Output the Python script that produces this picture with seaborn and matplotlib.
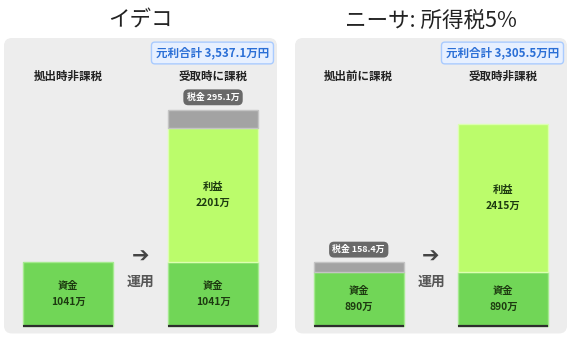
import matplotlib
matplotlib.use('Agg')
import matplotlib.pyplot as plt
import seaborn as sns
import pandas as pd
from matplotlib.patches import FancyBboxPatch

# ---- data ----
titles = ['イデコ', 'ニーサ: 所得税5%']
stages = ['拠出', '受取']
headers = [['拠出時非課税', '受取時に課税'], ['拠出前に課税', '受取時非課税']]
principal = [1041, 890]
profit = [2201, 2415]
tax_contrib = [0, 158.4]
tax_receive = [295.1, 0]
totals = ['3,537.1', '3,305.5']
layer_names = ['資金', '利益', '税金']

sns.set_theme(style='white')
plt.rcParams['font.family'] = ['Noto Sans CJK JP', 'DejaVu Sans']

W, H = 570, 342
fig = plt.figure(figsize=(W / 100, H / 100), dpi=100)
fig.patch.set_facecolor('white')

colors = {'資金': '#71d657', '利益': '#bbfc6b', '税金': '#a3a3a3'}
edges = {'資金': '#a5ea8f', '利益': '#dcffb0', '税金': '#c4c4c4'}

# card geometry in pixels (left, width)
cards = [(4, 273), (295, 272)]
card_bottom, card_top = 332, 38
base_px = 326
scale = 0.0612  # px per 万
bar_w = 0.62

for i, (cl, cw) in enumerate(cards):
    # card background with shadow
    for off, col, a, z in [(1.5, '#000000', 0.07, -3), (0, '#ededed', 1.0, -2)]:
        fig.patches.append(FancyBboxPatch(
            ((cl) / 100, (H - card_bottom - off) / 100), cw / 100, (card_bottom - card_top) / 100,
            boxstyle='round,pad=0,rounding_size=0.08', transform=fig.dpi_scale_trans,
            fc=col, ec='none', alpha=a, zorder=z))
    ax = fig.add_axes([cl / W, (H - card_bottom) / H, cw / W, (card_bottom - card_top) / H])
    ax.set_facecolor('none')
    ax.set_zorder(1)

    rows = []
    vals = {
        '資金': ([principal[i], principal[i]], [0, 0]),
        '利益': ([0, profit[i]], [principal[i], principal[i]]),
        '税金': ([tax_contrib[i], tax_receive[i]], [principal[i], principal[i] + profit[i]]),
    }
    for ln in layer_names:
        v, b = vals[ln]
        for j, st in enumerate(stages):
            rows.append(dict(stage=st, layer=ln, value=v[j], bottom=b[j], pos=j))
    df = pd.DataFrame(rows)
    df = df[df['value'] > 0]

    for ln in layer_names:
        sub = df[df['layer'] == ln]
        sns.barplot(data=sub, x='stage', y='value', order=stages, bottom=sub['bottom'].values,
                    color=colors[ln], edgecolor=edges[ln], linewidth=1.0, width=bar_w,
                    saturation=1, errorbar=None, ax=ax, zorder=2)

    ax.set_xlim(-0.441, 1.441)
    ymin = -(card_bottom - base_px) / scale
    ymax = (base_px - card_top) / scale
    ax.set_ylim(ymin, ymax)
    ax.axis('off')

    # baseline under each bar
    for j in range(len(stages)):
        ax.plot([j - bar_w / 2, j + bar_w / 2], [0, 0], color='#2e2e2e', lw=1.6,
                solid_capstyle='butt', zorder=3)

    # labels
    for _, r in df.iterrows():
        if r['layer'] in ('資金', '利益'):
            ax.text(r['pos'], r['bottom'] + r['value'] / 2, f"{r['layer']}\n{r['value']:g}万",
                    ha='center', va='center', fontsize=7.4, fontweight='bold',
                    color='#1d3a10', linespacing=1.75, zorder=4)
        else:
            ax.annotate(f"税金 {r['value']:g}万", xy=(r['pos'], r['bottom'] + r['value']),
                        xytext=(0, 8.8), textcoords='offset points', ha='center', va='center',
                        fontsize=6.4, fontweight='bold', color='white', zorder=5,
                        bbox=dict(boxstyle='round,pad=0.38,rounding_size=0.55', fc='#696969',
                                  ec='none'))

    # headers
    for j, h in enumerate(headers[i]):
        ax.text(j, 0.871, h, transform=ax.get_xaxis_transform(), ha='center', va='center',
                fontsize=8.3, fontweight='bold', color='#222222')

    # arrow & 運用
    ax.text(0.5, 0.255, '➔', transform=ax.get_xaxis_transform(), ha='center', va='center',
            fontsize=15, fontweight='bold', color='#444444', family=['DejaVu Sans'])
    ax.text(0.5, 0.170, '運用', transform=ax.get_xaxis_transform(), ha='center', va='center',
            fontsize=10, fontweight='bold', color='#555555')

    # total box
    ax.text(0.971, 0.949, f'元利合計 {totals[i]}万円', transform=ax.transAxes,
            ha='right', va='center', fontsize=8.3, fontweight='bold', color='#2b6fd6',
            bbox=dict(boxstyle='round,pad=0.38,rounding_size=0.3', fc='#e7f0ff',
                      ec='#a9cbff', lw=1))

    # title
    fig.text((cl + cw / 2) / W, 1 - 21 / H, titles[i], ha='center', va='center',
             fontsize=15.5, color='#222222')

fig.savefig('out.png', dpi=100)
